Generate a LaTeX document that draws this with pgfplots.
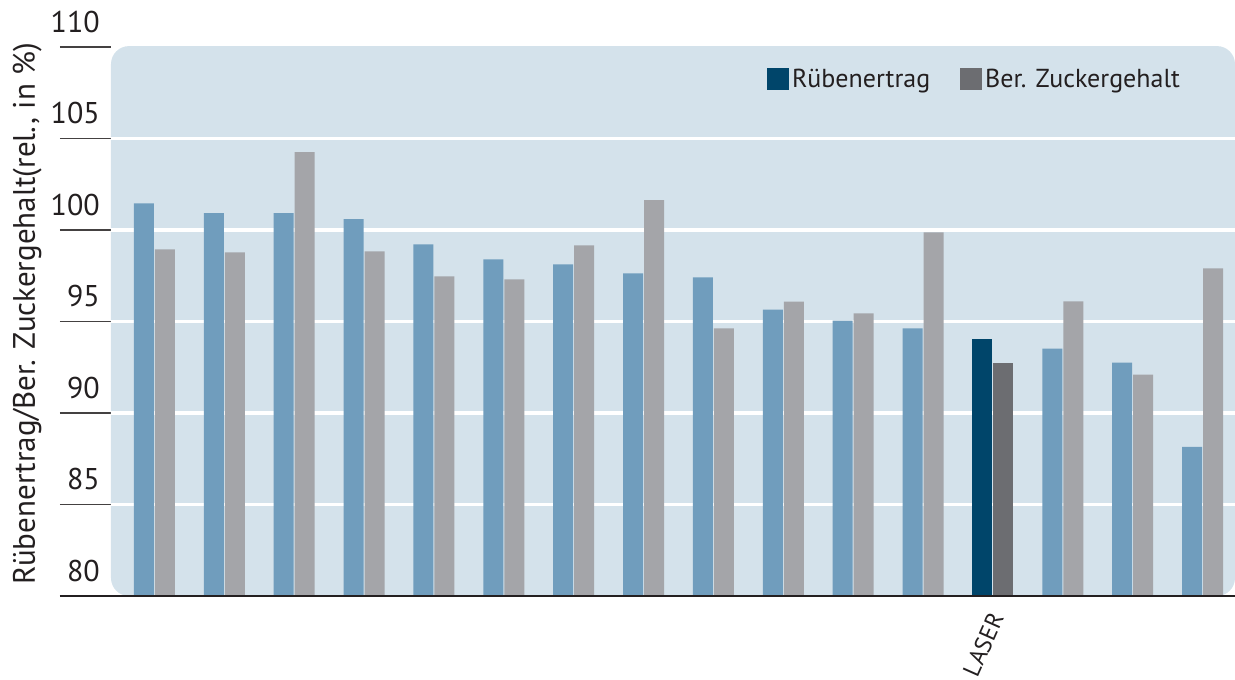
\documentclass[border=0pt]{standalone}
\usepackage{pgfplots}
\pgfplotsset{compat=1.18}
\usepackage{fontspec}
\setmainfont{PT Sans}
\definecolor{bg}{HTML}{D4E2EB}
\definecolor{lblue}{HTML}{709DBD}
\definecolor{lgray}{HTML}{A4A5A9}
\definecolor{dblue}{HTML}{00456A}
\definecolor{dgray}{HTML}{6C6D71}
\definecolor{txt}{HTML}{231F20}
\pgfplotsset{sqlegend/.style={legend image code/.code={\path[##1,draw=none] (0pt,-11pt) rectangle (22pt,11pt);}}}
\begin{document}
\begin{tikzpicture}
\useasboundingbox (0,0) rectangle (1235pt,680pt);
\begin{axis}[
  at={(60pt,84pt)}, anchor=south west,
  scale only axis, width=1175pt, height=549pt,
  xmin=-0.3525, xmax=16.465, ymin=80, ymax=110,
  clip mode=individual,
  axis line style={draw=none},
  ytick={80,85,...,110}, ytick pos=left,
  tick align=inside, major tick length=51pt,
  y tick style={draw=txt!85, line width=1.3pt},
  xtick={13}, xticklabels={LASER}, x tick style={draw=none},
  /pgf/number format/assume math mode=true,
  yticklabel style={anchor=south east, inner sep=0pt, xshift=40pt, yshift=14pt, font=\fontsize{30}{31}\selectfont, text=txt},
  xticklabel style={xshift=4pt, yshift=-18pt, rotate=66, anchor=east, inner sep=0pt, font=\fontsize{24}{25}\selectfont, text=txt},
  ylabel={Rübenertrag/Ber. Zuckergehalt(rel., in \%)},
  ylabel style={at={(rel axis cs:-0.0213,0.5137)}, anchor=base, inner sep=0pt, font=\fontsize{31}{32}\selectfont, text=txt},
  legend style={at={(0.6017,0.965)}, anchor=north west, draw=none, fill=none, inner sep=0pt,
    legend columns=2, font=\fontsize{26}{27}\selectfont, text=txt,
    /tikz/every even column/.append style={column sep=27pt},
    nodes={inner sep=3pt}},
]
\fill[bg, rounded corners=18pt] (axis cs:0.3774,80) rectangle (axis cs:16.465,110.05);
\pgfplotsinvokeforeach{85,90,95,100,105}{
  \draw[white, line width=3.5pt] (axis cs:0.3774,#1) -- (axis cs:16.465,#1);
}
\addplot[ybar, bar width=20pt, bar shift=-10.5pt, fill=lblue, draw=none, forget plot] coordinates {
(1,101.46) (2,100.92) (3,100.92) (4,100.59) (5,99.22) (6,98.39) (7,98.12) (8,97.63)
(9,97.41) (10,95.65) (11,95.05) (12,94.62) (14,93.52) (15,92.75) (16,88.15)};
\addplot[ybar, bar width=20pt, bar shift=10.5pt, fill=lgray, draw=none, forget plot] coordinates {
(1,98.94) (2,98.78) (3,104.26) (4,98.83) (5,97.46) (6,97.30) (7,99.16) (8,101.63)
(9,94.62) (10,96.09) (11,95.44) (12,99.87) (14,96.10) (15,92.10) (16,97.90)};
\addplot[ybar, bar width=20pt, bar shift=-10.5pt, fill=dblue, draw=none, sqlegend] coordinates {(13,94.07)};
\addplot[ybar, bar width=20pt, bar shift=10.5pt, fill=dgray, draw=none, sqlegend] coordinates {(13,92.75)};
\legend{Rübenertrag, Ber. Zuckergehalt}
\draw[txt, line width=2pt] (axis cs:-0.3525,80) -- (axis cs:16.465,80);
\end{axis}
\end{tikzpicture}
\end{document}
